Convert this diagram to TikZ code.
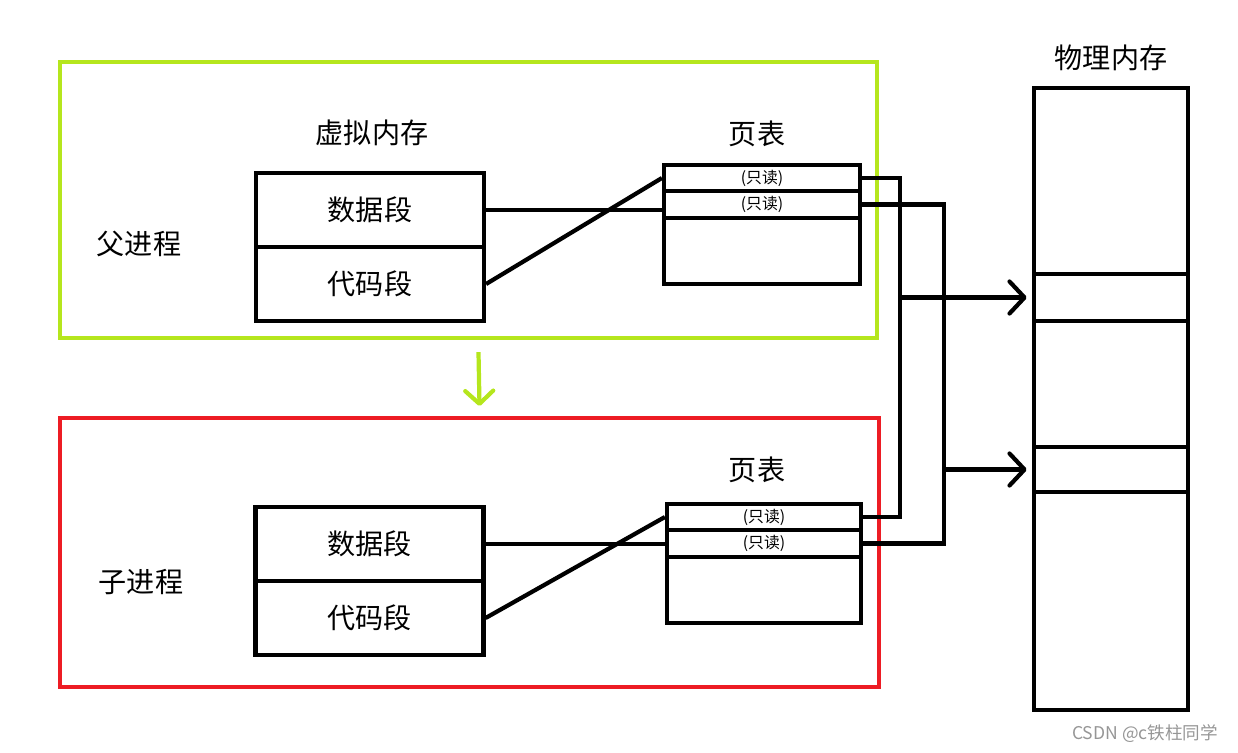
\documentclass[tikz,border=0pt]{standalone}
\usepackage{fontspec}
\setmainfont{Noto Sans CJK SC}
\usetikzlibrary{arrows.meta}
\definecolor{plime}{RGB}{181,230,29}
\definecolor{pred}{RGB}{237,28,36}
\definecolor{wgray}{RGB}{150,150,150}
\tikzset{
  title/.style={inner sep=0pt, font=\fontsize{16}{19}\selectfont},
  frame/.style={inner sep=0pt},
  seg/.style={draw, inner sep=0pt, minimum width=4.56cm, minimum height=1.48cm, font=\fontsize{16}{19}\selectfont},
  row/.style={draw, inner sep=0pt, minimum width=3.92cm, font=\fontsize{9}{10}\selectfont},
  block/.style={draw, inner sep=0pt, minimum width=3.08cm},
  maparrow/.style={-{Straight Barb[length=3mm,width=6.4mm,round]}, shorten >=3pt},
  downarrow/.style={draw=plime, -{Straight Barb[length=2.6mm,width=5.6mm,round]}},
  wmark/.style={inner sep=0pt, text=wgray, font=\fontsize{10}{12}\selectfont}
}

\begin{document}
\begin{tikzpicture}[x=0.02cm, y=-0.02cm, line width=2.4pt]
  \useasboundingbox (0,0) rectangle (1238,752);
  % process frames
  \node[frame, draw=plime, minimum width=16.34cm, minimum height=5.52cm] (parent) at (468.5,200) {};
  \node[frame, draw=pred, minimum width=16.38cm, minimum height=5.38cm] (child) at (469.5,552.5) {};
  \draw[downarrow] ([xshift=0.2cm,yshift=-0.24cm]parent.south) -- ([xshift=0.2cm,yshift=0.2cm]child.north);
  \node[title] (ptitle) at (139,244) {父进程};
  \node[title] (ctitle) at (141,582) {子进程};

  % virtual memory
  \node[title] (vmtitle) at (372,133) {虚拟内存};
  \node[seg] (pdata) at (370,210) {数据段};
  \node[seg] (pcode) at (370,284) {代码段};
  \node[seg] (cdata) at (369.5,544) {数据段};
  \node[seg] (ccode) at (369.5,618) {代码段};

  % page tables
  \node[title] (ptabtitle) at (757,134) {页表};
  \node[row, minimum height=0.52cm] (prow1) at (762,178) {(只读)};
  \node[row, minimum height=0.54cm] (prow2) at (762,204.5) {(只读)};
  \node[row, minimum height=1.32cm] (prow3) at (762,251) {};
  \node[title] (ctabtitle) at (757,470) {页表};
  \node[row, minimum width=3.88cm, minimum height=0.52cm] (crow1) at (764,517) {(只读)};
  \node[row, minimum width=3.88cm, minimum height=0.54cm] (crow2) at (764,543.5) {(只读)};
  \node[row, minimum width=3.88cm, minimum height=1.32cm] (crow3) at (764,590) {};

  % physical memory
  \node[title] (phystitle) at (1111,58) {物理内存};
  \node[block, minimum height=12.44cm] (phys) at (1111,399) {};
  \node[block, minimum height=0.94cm] (blk1) at (1111,297.5) {};
  \node[block, minimum height=0.9cm] (blk2) at (1111,469.5) {};

  \draw (pdata.east) -- (pdata.east -| prow2.west);
  \draw (pcode.east) -- (prow1.west);
  \draw (cdata.east) -- (cdata.east -| crow2.west);
  \draw (ccode.east) -- (crow1.west);

  \coordinate (busA) at (900,297.5);
  \coordinate (busB) at (944,469.5);
  \draw (prow1.east) -| (busA) |- (crow1.east);
  \draw (prow2.east) -| (busB) |- (crow2.east);
  \draw[maparrow] (busA) -- (blk1.west);
  \draw[maparrow] (busB) -- (blk2.west);

  \node[wmark] (credit) at (1145,734) {CSDN @c铁柱同学};
\end{tikzpicture}
\end{document}
